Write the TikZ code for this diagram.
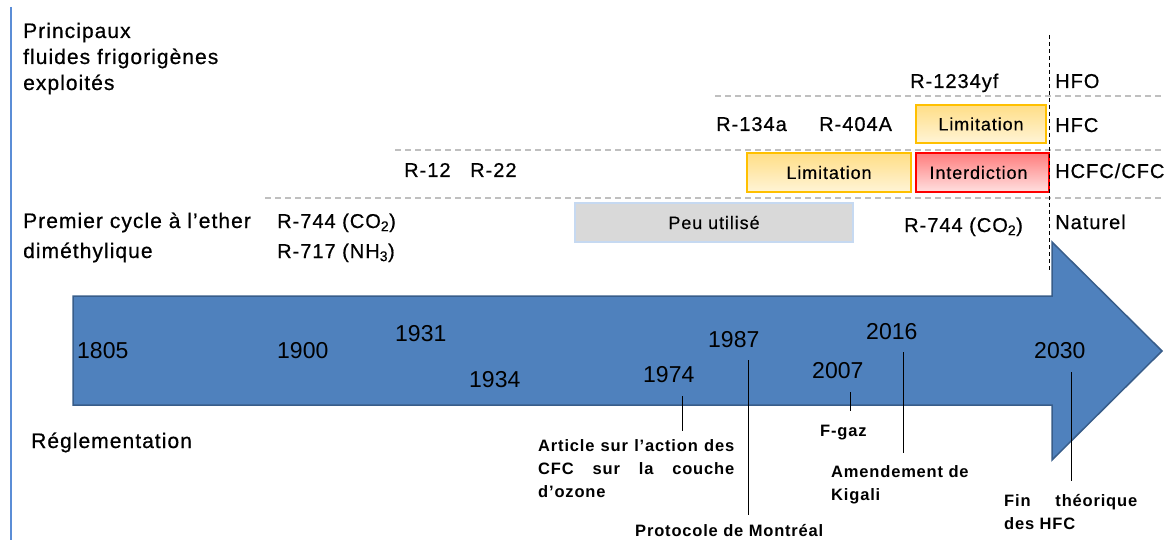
\documentclass[tikz,border=0pt]{standalone}
\usepackage{fontspec}
\setmainfont{Liberation Sans}[LetterSpace=5]
\newfontfamily\medfont{Liberation Sans}[LetterSpace=5,FakeBold=0.6]
\newfontfamily\boxfont{Liberation Sans}[LetterSpace=5,FakeBold=0.3]
\newfontfamily\yearfont{Liberation Sans}
\definecolor{arrowfill}{RGB}{79,129,189}
\definecolor{arrowdraw}{RGB}{56,93,138}
\definecolor{leftline}{RGB}{91,141,214}
\definecolor{dashgray}{RGB}{191,191,191}
\definecolor{ylwborder}{RGB}{255,192,0}
\definecolor{ylwtop}{RGB}{255,222,135}
\definecolor{ylwbot}{RGB}{255,244,214}
\definecolor{redborder}{RGB}{255,0,0}
\definecolor{redtop}{RGB}{255,125,125}
\definecolor{redbot}{RGB}{255,224,224}
\definecolor{graybox}{RGB}{217,217,217}
\definecolor{grayborder}{RGB}{198,217,241}
\begin{document}
\begin{tikzpicture}[x=1pt,y=-1pt,
  head/.style={inner sep=0pt, anchor=base west, font=\medfont\fontsize{21}{26}\selectfont},
  lbl/.style={inner sep=0pt, anchor=base west, font=\medfont\fontsize{20}{30}\selectfont},
  yr/.style={inner sep=0pt, anchor=base west, font=\yearfont\fontsize{23}{26}\selectfont},
  note/.style={inner sep=0pt, anchor=base west, font=\bfseries\fontsize{16.5}{23}\selectfont},
  tick/.style={draw=black, line width=1pt},
  sep/.style={draw=dashgray, line width=1.5pt, dash pattern=on 6pt off 4pt},
  boxtxt/.style={inner sep=0pt, font=\boxfont\fontsize{18}{20}\selectfont},
  ylwbox/.style={boxtxt, draw=ylwborder, line width=2.5pt, top color=ylwtop, bottom color=ylwbot},
  redbox/.style={boxtxt, draw=redborder, line width=2.5pt, top color=redtop, bottom color=redbot},
  graybx/.style={boxtxt, draw=grayborder, fill=graybox, line width=2pt}
]
\useasboundingbox (0,0) rectangle (1174,540);
\hyphenpenalty=10000
\tolerance=9999
\hbadness=10000

% left vertical line
\coordinate (lt) at (11,7);
\coordinate (lb) at (11,540);
\draw[leftline, line width=1.5pt] (lt) -- (lb);

% timeline arrow
\draw[fill=arrowfill, draw=arrowdraw, line width=1.5pt]
  (73,296) -- (1052,296) -- (1052,242) -- (1162,351) -- (1052,460) -- (1052,405) -- (73,405) -- cycle;

% dashed separators
\coordinate (s1a) at (715,96);  \coordinate (s1b) at (1162,96);
\coordinate (s2a) at (395,150); \coordinate (s2b) at (1162,150);
\coordinate (s3a) at (265,198); \coordinate (s3b) at (1162,198);
\draw[sep] (s1a) -- (s1b);
\draw[sep] (s2a) -- (s2b);
\draw[sep] (s3a) -- (s3b);

% boxes
\node[graybx, minimum width=278pt, minimum height=39pt] (peu) at (714,222.5) {Peu utilisé};
\node[ylwbox, minimum width=130pt, minimum height=38pt] (limhfc) at (981,124) {Limitation};
\node[ylwbox, minimum width=164pt, minimum height=39pt] (limhcfc) at (829,172.5) {Limitation};
\node[redbox, minimum width=133pt, minimum height=39pt] (interd) at (982.5,172.5) {\hspace*{-8pt}Interdiction};

% vertical dashed line (2030)
\coordinate (va) at (1049,35);
\coordinate (vb) at (1049,272);
\draw[black, line width=1pt, dash pattern=on 4pt off 3pt] (va) -- (vb);

% left headings
\node[head] (titre) at (23,38) {\parbox[t]{250pt}{\raggedright Principaux\\fluides frigorigènes\\exploités}};
\node[head, font=\medfont\fontsize{21}{30}\selectfont] (premier) at (23,228) {\parbox[t]{250pt}{\raggedright Premier cycle à l’ether\\diméthylique}};
\node[head] (regl) at (31,448) {Réglementation};

% fluids
\node[lbl] (r744a) at (277,228) {\parbox[t]{150pt}{\raggedright R-744 (CO\textsubscript{2})\\R-717 (NH\textsubscript{3})}};
\node[lbl] (r12) at (404,177) {R-12};
\node[lbl] (r22) at (470,177) {R-22};
\node[lbl] (r134a) at (716,131) {R-134a};
\node[lbl] (r404a) at (819,131) {R-404A};
\node[lbl] (r1234) at (910,88) {R-1234yf};
\node[lbl] (r744b) at (904,232) {R-744 (CO\textsubscript{2})};

% families
\node[lbl] (hfo) at (1055,88) {HFO};
\node[lbl] (hfc) at (1055,132) {HFC};
\node[lbl] (hcfc) at (1055,178) {HCFC/CFC};
\node[lbl] (nat) at (1055,229) {Naturel};

% years
\node[yr] (y1805) at (77,358) {1805};
\node[yr] (y1900) at (277,358) {1900};
\node[yr] (y1931) at (395,341) {1931};
\node[yr] (y1934) at (469,387) {1934};
\node[yr] (y1974) at (643,382) {1974};
\node[yr] (y1987) at (708,347) {1987};
\node[yr] (y2007) at (812,378) {2007};
\node[yr] (y2016) at (866,339) {2016};
\node[yr] (y2030) at (1034,358) {2030};

% regulation labels
\node[note] (art) at (538,451) {\parbox[t]{196pt}{Article sur l’action des\linebreak CFC sur la couche\linebreak d’ozone}};
\node[note] (mont) at (635,536) {Protocole de Montréal};
\node[note] (fgaz) at (820,436) {F-gaz};
\node[note] (kig) at (831,477) {\parbox[t]{160pt}{\raggedright Amendement de\\Kigali}};
\node[note] (fin) at (1004,506) {\parbox[t]{133pt}{Fin théorique\linebreak des HFC}};

% ticks
\coordinate (t74a) at (682,396); \coordinate (t74b) at (682,431);
\coordinate (t87a) at (748,360); \coordinate (t87b) at (748,515);
\coordinate (t07a) at (850,392); \coordinate (t07b) at (850,411);
\coordinate (t16a) at (903,352); \coordinate (t16b) at (903,453);
\coordinate (t30a) at (1071,372); \coordinate (t30b) at (1071,481);
\draw[tick] (t74a) -- (t74b);
\draw[tick] (t87a) -- (t87b);
\draw[tick] (t07a) -- (t07b);
\draw[tick] (t16a) -- (t16b);
\draw[tick] (t30a) -- (t30b);
\end{tikzpicture}
\end{document}
